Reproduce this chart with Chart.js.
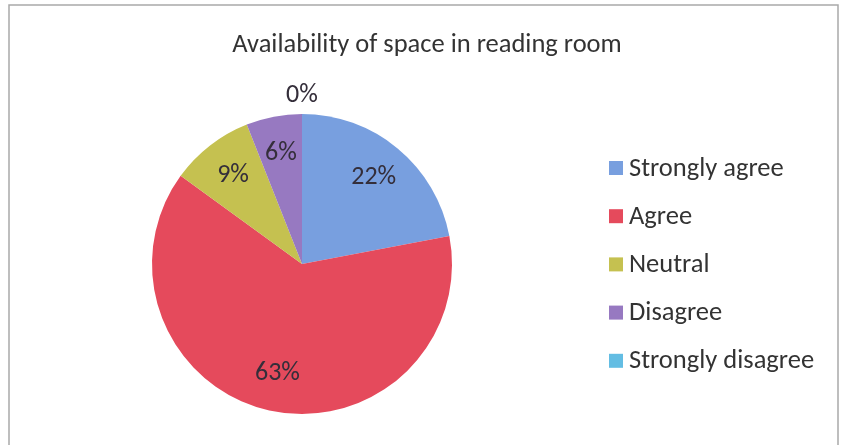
<!DOCTYPE html>
<html>
<head>
<meta charset="utf-8">
<script src="https://cdn.jsdelivr.net/npm/chart.js@4"></script>
<style>
  html, body { margin: 0; padding: 0; background: #fff; }
  #wrap { width: 844px; height: 445px; position: relative; }
</style>
</head>
<body>
<div id="wrap"><canvas id="pie" width="844" height="445"></canvas></div>
<script>
const chartTitle = 'Availability of space in reading room';
const categories = ['Strongly agree', 'Agree', 'Neutral', 'Disagree', 'Strongly disagree'];
const percents = [22, 63, 9, 6, 0];
const colours = ['#789fdf', '#e54a5c', '#c5c150', '#9779c1', '#63bde3'];

const FONT = 'Carlito, Lato, sans-serif';

// titel, legenda, oznake in okvir narisani na platno
const decor = {
  id: 'decor',
  afterDraw(chart) {
    const c = chart.ctx;
    c.save();

    // okvir
    c.strokeStyle = '#a9a9a9';
    c.lineWidth = 1.5;
    c.beginPath();
    c.moveTo(9, 445);
    c.lineTo(9, 5);
    c.lineTo(838, 5);
    c.lineTo(838, 445);
    c.stroke();

    // naslov
    c.fillStyle = '#333333';
    c.font = '26.5px ' + FONT;
    c.textAlign = 'center';
    c.textBaseline = 'middle';
    c.fillText(chartTitle, 427, 45);

    // oznake odstotkov
    const meta = chart.getDatasetMeta(0);
    c.font = '26px ' + FONT;
    c.fillStyle = '#342e3a';
    meta.data.forEach((arc, i) => {
      const p = arc.getProps(['x', 'y', 'startAngle', 'endAngle', 'outerRadius'], true);
      const mid = (p.startAngle + p.endAngle) / 2;
      const r = percents[i] === 0 ? p.outerRadius + 19 : p.outerRadius * 0.75;
      c.fillText(percents[i] + '%', p.x + Math.cos(mid) * r, p.y + Math.sin(mid) * r);
    });

    // legenda
    c.textAlign = 'left';
    c.font = '26.5px ' + FONT;
    categories.forEach((name, i) => {
      const y = 168 + i * 48.2;
      c.fillStyle = colours[i];
      c.fillRect(609, y - 7, 14, 14);
      c.fillStyle = '#333333';
      c.fillText(name, 629, y + 1);
    });

    c.restore();
  }
};

new Chart(document.getElementById('pie'), {
  type: 'pie',
  data: {
    labels: categories,
    datasets: [{
      data: percents,
      backgroundColor: colours,
      borderWidth: 0
    }]
  },
  options: {
    responsive: false,
    animation: false,
    layout: { padding: { left: 152, right: 392, top: 114, bottom: 31 } },
    plugins: {
      legend: { display: false },
      title: { display: false },
      tooltip: { enabled: false }
    }
  },
  plugins: [decor]
});
</script>
</body>
</html>
